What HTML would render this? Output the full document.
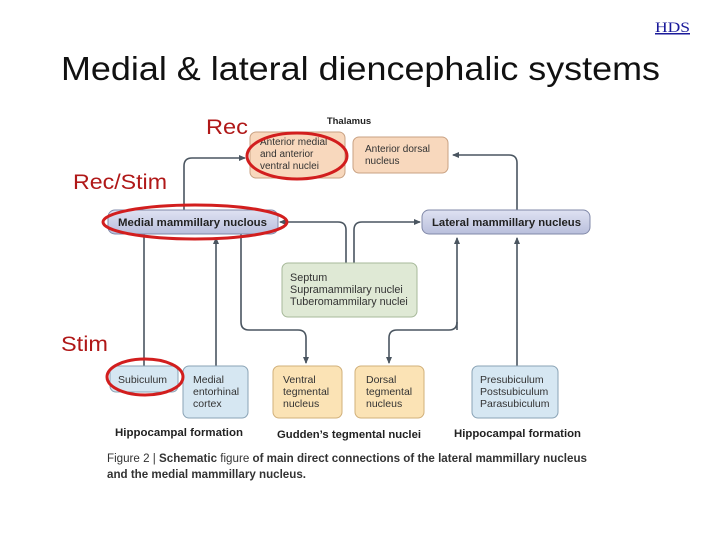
<!DOCTYPE html>
<html><head><meta charset="utf-8"><style>
html,body{margin:0;padding:0;background:#fff;}
svg{display:block;}
</style></head><body>
<svg width="720" height="540" viewBox="0 0 720 540" xmlns="http://www.w3.org/2000/svg" font-family="Liberation Sans, sans-serif">
<defs>
<marker id="a" markerWidth="8" markerHeight="8" refX="6" refY="3" orient="auto" markerUnits="userSpaceOnUse"><path d="M0,0 L7,3 L0,6 z" fill="#4a5560"/></marker>
<linearGradient id="bl" x1="0" y1="0" x2="0" y2="1"><stop offset="0" stop-color="#dfe2f2"/><stop offset="1" stop-color="#b9bfdc"/></linearGradient>
</defs>
<text x="655" y="32" font-family="Liberation Serif, serif" font-size="15" fill="#1a1a9a" text-decoration="underline" textLength="35" lengthAdjust="spacingAndGlyphs">HDS</text>
<text x="61" y="80" font-size="33" fill="#111" textLength="599" lengthAdjust="spacingAndGlyphs">Medial &amp; lateral diencephalic systems</text>

<g stroke="#4a5560" stroke-width="1.6" fill="none">
<path d="M184,210 V166 Q184,158 192,158 H245" marker-end="url(#a)"/>
<path d="M517,210 V163 Q517,155 509,155 H453" marker-end="url(#a)"/>
<path d="M346,263 V230 Q346,222 338,222 H280" marker-end="url(#a)"/>
<path d="M354,263 V230 Q354,222 362,222 H420" marker-end="url(#a)"/>
<path d="M144,366 V234"/>
<path d="M216,366 V238" marker-end="url(#a)"/>
<path d="M241,234 V322 Q241,330 249,330 H298 Q306,330 306,338 V363" marker-end="url(#a)"/>
<path d="M457,330 V238" marker-end="url(#a)"/>
<path d="M457,322 Q457,330 449,330 H397 Q389,330 389,338 V363" marker-end="url(#a)"/>
<path d="M517,366 V238" marker-end="url(#a)"/>
</g>

<text x="349" y="124" text-anchor="middle" font-size="9.5" font-weight="bold" fill="#222">Thalamus</text>
<rect x="250" y="132" width="95" height="46" rx="6" fill="#f8d8bd" stroke="#c9a283"/>
<text font-size="10" fill="#333"><tspan x="260" y="145">Anterior medial</tspan><tspan x="260" y="157">and anterior</tspan><tspan x="260" y="169">ventral nuclei</tspan></text>
<rect x="353" y="137" width="95" height="36" rx="6" fill="#f8d8bd" stroke="#c9a283"/>
<text font-size="10" fill="#333"><tspan x="365" y="152">Anterior dorsal</tspan><tspan x="365" y="164">nucleus</tspan></text>

<rect x="108" y="210" width="170" height="24" rx="7" fill="url(#bl)" stroke="#8088a8"/>
<text x="118" y="226" font-size="11" font-weight="bold" fill="#222" textLength="149" lengthAdjust="spacingAndGlyphs">Medial mammillary nuclous</text>
<rect x="422" y="210" width="168" height="24" rx="7" fill="url(#bl)" stroke="#8088a8"/>
<text x="432" y="226" font-size="11" font-weight="bold" fill="#222" textLength="149" lengthAdjust="spacingAndGlyphs">Lateral mammillary nucleus</text>

<rect x="282" y="263" width="135" height="54" rx="6" fill="#dfe9d5" stroke="#a7b99a"/>
<text font-size="10.8" fill="#333"><tspan x="290" y="281">Septum</tspan><tspan x="290" y="293">Supramammilary nuclei</tspan><tspan x="290" y="305">Tuberomammilary nuclei</tspan></text>

<rect x="110" y="366" width="68" height="26" rx="6" fill="#d6e7f2" stroke="#8aa3b5"/>
<text x="118" y="383" font-size="10.5" fill="#333">Subiculum</text>
<rect x="183" y="366" width="65" height="52" rx="6" fill="#d6e7f2" stroke="#8aa3b5"/>
<text font-size="10.5" fill="#333"><tspan x="193" y="383">Medial</tspan><tspan x="193" y="395">entorhinal</tspan><tspan x="193" y="407">cortex</tspan></text>
<rect x="273" y="366" width="69" height="52" rx="6" fill="#fbe3b5" stroke="#d1b07a"/>
<text font-size="10.5" fill="#333"><tspan x="283" y="383">Ventral</tspan><tspan x="283" y="395">tegmental</tspan><tspan x="283" y="407">nucleus</tspan></text>
<rect x="355" y="366" width="69" height="52" rx="6" fill="#fbe3b5" stroke="#d1b07a"/>
<text font-size="10.5" fill="#333"><tspan x="366" y="383">Dorsal</tspan><tspan x="366" y="395">tegmental</tspan><tspan x="366" y="407">nucleus</tspan></text>
<rect x="472" y="366" width="86" height="52" rx="6" fill="#d6e7f2" stroke="#8aa3b5"/>
<text font-size="10.5" fill="#333"><tspan x="480" y="383">Presubiculum</tspan><tspan x="480" y="395">Postsubiculum</tspan><tspan x="480" y="407">Parasubiculum</tspan></text>

<text x="115" y="436" font-size="11" font-weight="bold" fill="#222" textLength="128" lengthAdjust="spacingAndGlyphs">Hippocampal formation</text>
<text x="277" y="438" font-size="11" font-weight="bold" fill="#222" textLength="144" lengthAdjust="spacingAndGlyphs">Gudden’s tegmental nuclei</text>
<text x="454" y="437" font-size="11" font-weight="bold" fill="#222" textLength="127" lengthAdjust="spacingAndGlyphs">Hippocampal formation</text>
<text x="107" y="462" font-size="11.5" fill="#333" textLength="480" lengthAdjust="spacingAndGlyphs">Figure 2 | <tspan font-weight="bold">Schematic</tspan> figure <tspan font-weight="bold">of main direct connections of the lateral mammillary nucleus</tspan></text>
<text x="107" y="478" font-size="11.5" font-weight="bold" fill="#333" textLength="199" lengthAdjust="spacingAndGlyphs">and the medial mammillary nucleus.</text>

<g fill="none" stroke="#d21e1e" stroke-width="3">
<ellipse cx="297" cy="156" rx="50" ry="23"/>
<ellipse cx="195" cy="222" rx="92" ry="17"/>
<ellipse cx="145" cy="377" rx="38" ry="18"/>
</g>
<g font-size="21" fill="#b01818">
<text x="206" y="134" textLength="42" lengthAdjust="spacingAndGlyphs">Rec</text>
<text x="73" y="189" textLength="94" lengthAdjust="spacingAndGlyphs">Rec/Stim</text>
<text x="61" y="351" textLength="47" lengthAdjust="spacingAndGlyphs">Stim</text>
</g>
</svg>
</body></html>
